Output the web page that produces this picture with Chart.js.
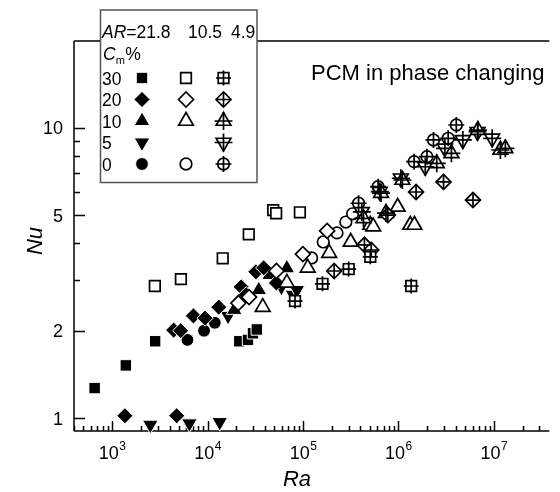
<!DOCTYPE html>
<html>
<head>
<meta charset="utf-8">
<script src="https://cdn.jsdelivr.net/npm/chart.js@4.4.1/dist/chart.umd.min.js"></script>
<style>
  html, body { margin: 0; background: #fff; }
  #c { display: block; }
</style>
</head>
<body>
<canvas id="c" width="560" height="492"></canvas>
<script>
// Nu vs Ra, log-log. Values as [Ra, Nu] pairs.
const AR = ["21.8", "10.5", "4.9"];
const CM = [30, 20, 10, 5, 0];

// AR = 21.8 (filled symbols)
const ar218_30 = [[655, 1.27], [1390, 1.52], [2820, 1.84], [21500, 1.84], [26500, 1.86], [29900, 1.96], [32800, 2.02]];
const ar218_20 = [[1360, 1.02], [4740, 1.02], [4410, 2.01], [5220, 2.0], [7100, 2.25], [9400, 2.21], [13100, 2.41],
  [22500, 2.83], [25400, 2.66], [32100, 3.19], [38700, 3.29], [52600, 2.92]];
const ar218_10 = [[19000, 2.36], [34400, 2.76], [44700, 3.11], [67700, 3.28]];
const ar218_5 = [[2510, 0.95], [6450, 0.96], [13400, 0.97], [16400, 2.25], [59300, 2.83], [78500, 2.66], [86300, 2.76]];
const ar218_0 = [[6150, 1.86], [9180, 2.0], [11900, 2.13]];

// AR = 10.5 (open symbols, no 5 %)
const ar105_30 = [[2800, 2.85], [5250, 3.01], [14400, 3.55], [27000, 4.29], [48700, 5.2], [52300, 5.07], [92700, 5.11]];
const ar105_20 = [[21000, 2.49], [27200, 2.61], [52600, 3.21], [99600, 3.67], [179000, 4.41]];
const ar105_10 = [[37800, 2.41], [67700, 2.92], [112000, 3.29], [188000, 3.7], [316000, 4.04], [507000, 4.62],
  [544000, 4.56], [982000, 5.33], [1330000, 4.62], [1470000, 4.62]];
const ar105_0 = [[123000, 3.56], [163000, 4.04], [227000, 4.34], [281000, 4.73], [331000, 5.05]];

// AR = 4.9 (crossed symbols)
const ar49_30 = [[82400, 2.53], [160000, 2.9], [301000, 3.26], [507000, 3.59], [1360000, 2.85]];
const ar49_20 = [[212000, 3.21], [440000, 3.95], [519000, 3.79], [774000, 5.0], [1530000, 6.0], [2970000, 6.5], [6040000, 5.63]];
const ar49_10 = [[430000, 4.87], [657000, 5.95], [740000, 5.08], [1100000, 6.6], [2520000, 7.53], [3590000, 8.15],
  [6800000, 9.8], [11700000, 8.37], [13200000, 8.48]];
const ar49_5 = [[413000, 5.13], [637000, 6.02], [1060000, 6.69], [1910000, 7.33], [3070000, 8.48], [4730000, 9.06],
  [6740000, 9.67], [9600000, 9.18]];
const ar49_0 = [[382000, 5.49], [612000, 6.26], [1460000, 7.63], [1990000, 7.94], [2330000, 9.06], [3320000, 9.18], [4040000, 10.2]];

// axes
const X_MIN = 398, X_MAX = 3.81e7;
const Y_MIN = 0.904, Y_MAX = 19.84;
const X_DECADES = [3, 4, 5, 6, 7];
const Y_MAJOR = [1, 2, 5, 10];
const Y_MINOR = [3, 4, 6, 7, 8, 9];

const FONT = '"Liberation Sans", Arial, sans-serif';
const LW = 1.7;

// symbol per Cm
const MARK = {
  30: { style: "rect", r: 7.5, cross: 7.5 },
  20: { style: "rectRot", r: 7.5, cross: 7.5 },
  10: { style: "triangle", r: 8.5, cross: 9 },
  5: { style: "triangle", r: 8.5, rot: 180, cross: 9 },
  0: { style: "circle", r: 5.8, cross: 8 },
};

const groups = [
  { kind: "solid", sets: { 30: ar218_30, 20: ar218_20, 10: ar218_10, 5: ar218_5, 0: ar218_0 } },
  { kind: "open", sets: { 30: ar105_30, 20: ar105_20, 10: ar105_10, 0: ar105_0 } },
  { kind: "cross", sets: { 30: ar49_30, 20: ar49_20, 10: ar49_10, 5: ar49_5, 0: ar49_0 } },
];

const pts = (a) => a.map(([x, y]) => ({ x, y }));

function look(cm, kind) {
  const m = MARK[cm];
  if (kind === "solid") return { pointStyle: m.style, radius: m.r + 0.6, rotation: m.rot || 0, bg: "#000", fg: "#fff", bw: 1 };
  return { pointStyle: m.style, radius: m.r, rotation: m.rot || 0, bg: "#fff", fg: "#000", bw: LW };
}

function ds(data, o) {
  return {
    data: pts(data), clip: false,
    pointStyle: o.pointStyle, pointRadius: o.radius, pointHoverRadius: o.radius, pointRotation: o.rotation,
    pointBackgroundColor: o.bg, pointBorderColor: o.fg, pointBorderWidth: o.bw,
  };
}

// chart.js draws dataset 0 last -> order: crosses, crossed shapes, open, solid
const crosses = [], shapes = { solid: [], open: [], cross: [] };
for (const g of groups) {
  for (const cm of CM) {
    const d = g.sets[cm];
    if (!d) continue;
    shapes[g.kind].push(ds(d, look(cm, g.kind)));
    if (g.kind === "cross") crosses.push(ds(d, { pointStyle: "cross", radius: MARK[cm].cross, rotation: 0, bg: "#000", fg: "#000", bw: LW }));
  }
}
const datasets = [...crosses, ...shapes.cross, ...shapes.open, ...shapes.solid];

function line(ctx, x1, y1, x2, y2) { ctx.moveTo(x1, y1); ctx.lineTo(x2, y2); }

const frame = {
  id: "frame",
  beforeDatasetsDraw(chart) {
    const { ctx, chartArea: a, scales: { x, y } } = chart;
    ctx.save();
    ctx.strokeStyle = "#000";
    ctx.lineWidth = 1.5;
    ctx.beginPath();
    line(ctx, a.left, a.top, a.right, a.top);
    line(ctx, a.left, a.top, a.left, a.bottom);
    line(ctx, a.left, a.bottom, a.right, a.bottom);
    // x ticks (inside)
    for (let d = 2; d <= 7; d++) {
      for (let m = 1; m <= 9; m++) {
        const v = m * 10 ** d;
        if (v < X_MIN || v > X_MAX) continue;
        const px = Math.round(x.getPixelForValue(v)) + 0.5;
        line(ctx, px, a.bottom, px, a.bottom - (m === 1 ? 10 : 5));
      }
    }
    for (const v of Y_MAJOR) { const py = Math.round(y.getPixelForValue(v)) + 0.5; line(ctx, a.left, py, a.left + 11, py); }
    for (const v of Y_MINOR) { const py = Math.round(y.getPixelForValue(v)) + 0.5; line(ctx, a.left, py, a.left + 6, py); }
    ctx.stroke();

    // tick labels
    ctx.fillStyle = "#000";
    ctx.textBaseline = "alphabetic";
    ctx.textAlign = "right";
    ctx.font = `18px ${FONT}`;
    for (const v of Y_MAJOR) ctx.fillText(String(v), a.left - 11, y.getPixelForValue(v) + 6.5);
    for (const d of X_DECADES) {
      const px = x.getPixelForValue(10 ** d);
      ctx.font = `18px ${FONT}`;
      const w1 = ctx.measureText("10").width;
      ctx.font = `12px ${FONT}`;
      const w2 = ctx.measureText(String(d)).width;
      const left = px - (w1 + w2) / 2;
      ctx.textAlign = "left";
      ctx.font = `18px ${FONT}`;
      ctx.fillText("10", left, a.bottom + 28);
      ctx.font = `12px ${FONT}`;
      ctx.fillText(String(d), left + w1 + 0.5, a.bottom + 19);
    }

    // axis titles
    ctx.font = `italic 22px ${FONT}`;
    ctx.textAlign = "center";
    ctx.fillText("Ra", 297, a.bottom + 55);
    ctx.save();
    ctx.translate(42, 241);
    ctx.rotate(-Math.PI / 2);
    ctx.fillText("Nu", 0, 0);
    ctx.restore();

    ctx.font = `22px ${FONT}`;
    ctx.textAlign = "left";
    ctx.fillText("PCM in phase changing", 311, 80);
    ctx.restore();
  },
  afterDraw(chart) {
    const ctx = chart.ctx;
    ctx.save();
    // legend box
    ctx.fillStyle = "#fff";
    ctx.fillRect(100.5, 10, 156.5, 172.5);
    ctx.strokeStyle = "#555";
    ctx.lineWidth = 1.5;
    ctx.strokeRect(100.5, 10, 156.5, 172.5);

    const LF = 17.5;
    ctx.fillStyle = "#000";
    ctx.textAlign = "left";
    ctx.font = `italic ${LF}px ${FONT}`;
    ctx.fillText("AR", 102, 38);
    let w = ctx.measureText("AR").width;
    ctx.font = `${LF}px ${FONT}`;
    ctx.fillText("=" + AR[0], 102 + w, 38);
    ctx.fillText(AR[1], 188, 38);
    ctx.fillText(AR[2], 231, 38);

    ctx.font = `italic ${LF}px ${FONT}`;
    ctx.fillText("C", 103, 60);
    w = ctx.measureText("C").width;
    ctx.font = `11px ${FONT}`;
    ctx.fillText("m", 103 + w, 64);
    ctx.font = `${LF}px ${FONT}`;
    ctx.fillText("%", 103 + w + 9.5, 60);

    const rowY = [78, 99.5, 121, 142.5, 164];
    const colX = [142, 186, 223.5];
    CM.forEach((cm, i) => {
      ctx.fillStyle = "#000";
      ctx.font = `${LF}px ${FONT}`;
      ctx.fillText(String(cm), 102, rowY[i] + 6.5);
      groups.forEach((g, j) => {
        if (!g.sets[cm]) return;
        const o = look(cm, g.kind);
        ctx.fillStyle = o.bg;
        ctx.strokeStyle = o.fg;
        ctx.lineWidth = o.bw;
        Chart.helpers.drawPoint(ctx, { pointStyle: o.pointStyle, radius: o.radius, rotation: o.rotation, borderWidth: o.bw }, colX[j], rowY[i]);
        if (g.kind === "cross") {
          ctx.strokeStyle = "#000";
          Chart.helpers.drawPoint(ctx, { pointStyle: "cross", radius: MARK[cm].cross, rotation: 0, borderWidth: LW }, colX[j], rowY[i]);
        }
      });
    });
    ctx.restore();
  },
};

new Chart(document.getElementById("c"), {
  type: "scatter",
  data: { datasets },
  options: {
    responsive: false,
    animation: false,
    devicePixelRatio: 1,
    events: [],
    layout: { padding: { left: 74, top: 41, right: 0, bottom: 61 } },
    plugins: { legend: { display: false }, tooltip: { enabled: false } },
    scales: {
      x: { type: "logarithmic", min: X_MIN, max: X_MAX, display: false },
      y: { type: "logarithmic", min: Y_MIN, max: Y_MAX, display: false },
    },
  },
  plugins: [frame],
});
</script>
</body>
</html>
